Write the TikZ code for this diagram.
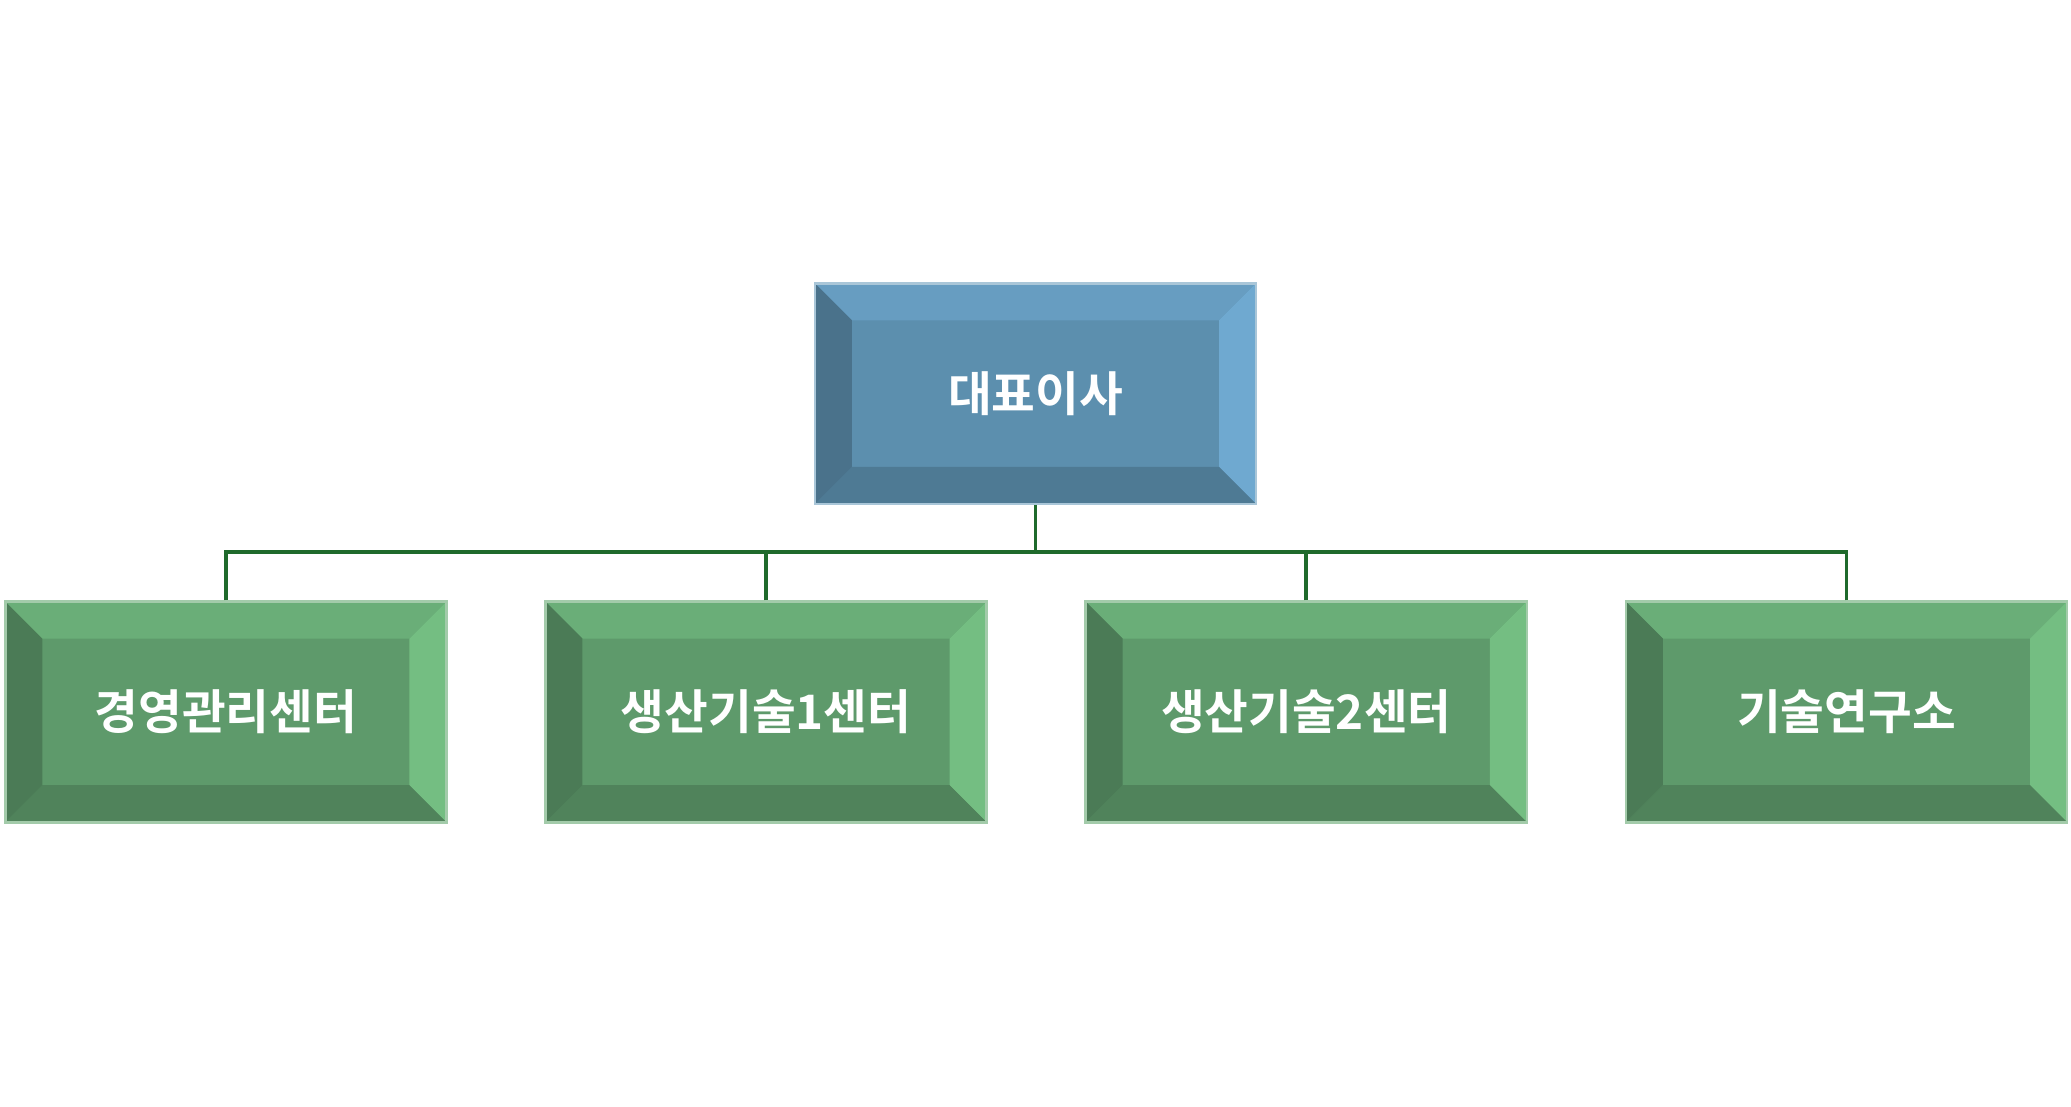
\documentclass[tikz,border=0pt]{standalone}
\usepackage{fontspec}
\newfontfamily\krfont{Noto Sans CJK KR Bold}
\usetikzlibrary{positioning}
\definecolor{ceoMain}{HTML}{5C8FAE}
\definecolor{ceoLight}{HTML}{6FA9D0}
\definecolor{ceoDark}{HTML}{4F7896}
\definecolor{ceoEdge}{HTML}{A9C6D8}
\definecolor{unitMain}{HTML}{5E9A6B}
\definecolor{unitLight}{HTML}{74BE82}
\definecolor{unitDark}{HTML}{547F5D}
\definecolor{unitEdge}{HTML}{A3CBAA}
\definecolor{linkGreen}{HTML}{1F6A2C}
\tikzset{
  bevel/.style n args={3}{rectangle,minimum width=334pt,minimum height=167pt,inner sep=0pt,
    fill=#1,draw=#3,line width=2pt,text=white,font=\krfont\fontsize{36}{40}\selectfont,
    path picture={
      \coordinate (nw) at (path picture bounding box.north west);
      \coordinate (ne) at (path picture bounding box.north east);
      \coordinate (sw) at (path picture bounding box.south west);
      \coordinate (se) at (path picture bounding box.south east);
      \fill[#2!55!#1] (nw) -- (ne) -- ([shift={(-28pt,-28pt)}]ne) -- ([shift={(28pt,-28pt)}]nw) -- cycle;
      \fill[#3!0!#2] (ne) -- (se) -- ([shift={(-28pt,28pt)}]se) -- ([shift={(-28pt,-28pt)}]ne) -- cycle;
      \fill[#2!0!#1!85!black] (sw) -- (se) -- ([shift={(-28pt,28pt)}]se) -- ([shift={(28pt,28pt)}]sw) -- cycle;
      \fill[#1!80!black] (nw) -- (sw) -- ([shift={(28pt,28pt)}]sw) -- ([shift={(28pt,-28pt)}]nw) -- cycle;
    }},
  ceo/.style={bevel={ceoMain}{ceoLight}{ceoEdge}},
  unit/.style={bevel={unitMain}{unitLight}{unitEdge}},
  link/.style={draw=linkGreen,line width=3pt}
}
\begin{document}
\begin{tikzpicture}[x=1pt,y=-1pt]
	\useasboundingbox (0,0) rectangle (1568,838);
	% top
	\node (ceo) [ceo] at (784,298) {대표이사};
	% centers
	\node (mgmt) [unit] at (171,539) {경영관리센터};
	\node (prod1) [unit] at (580,539) {생산기술1센터};
	\node (prod2) [unit] at (989,539) {생산기술2센터};
	\node (lab) [unit] at (1398,539) {기술연구소};
	% connections
	\coordinate (bus) at (784,418);
	\draw [link] (ceo.south) -- (bus);
	\foreach \n in {mgmt,prod1,prod2,lab}
		\draw [link] (\n.north) -- (\n.north |- bus) -- (bus);
\end{tikzpicture}
\end{document}
